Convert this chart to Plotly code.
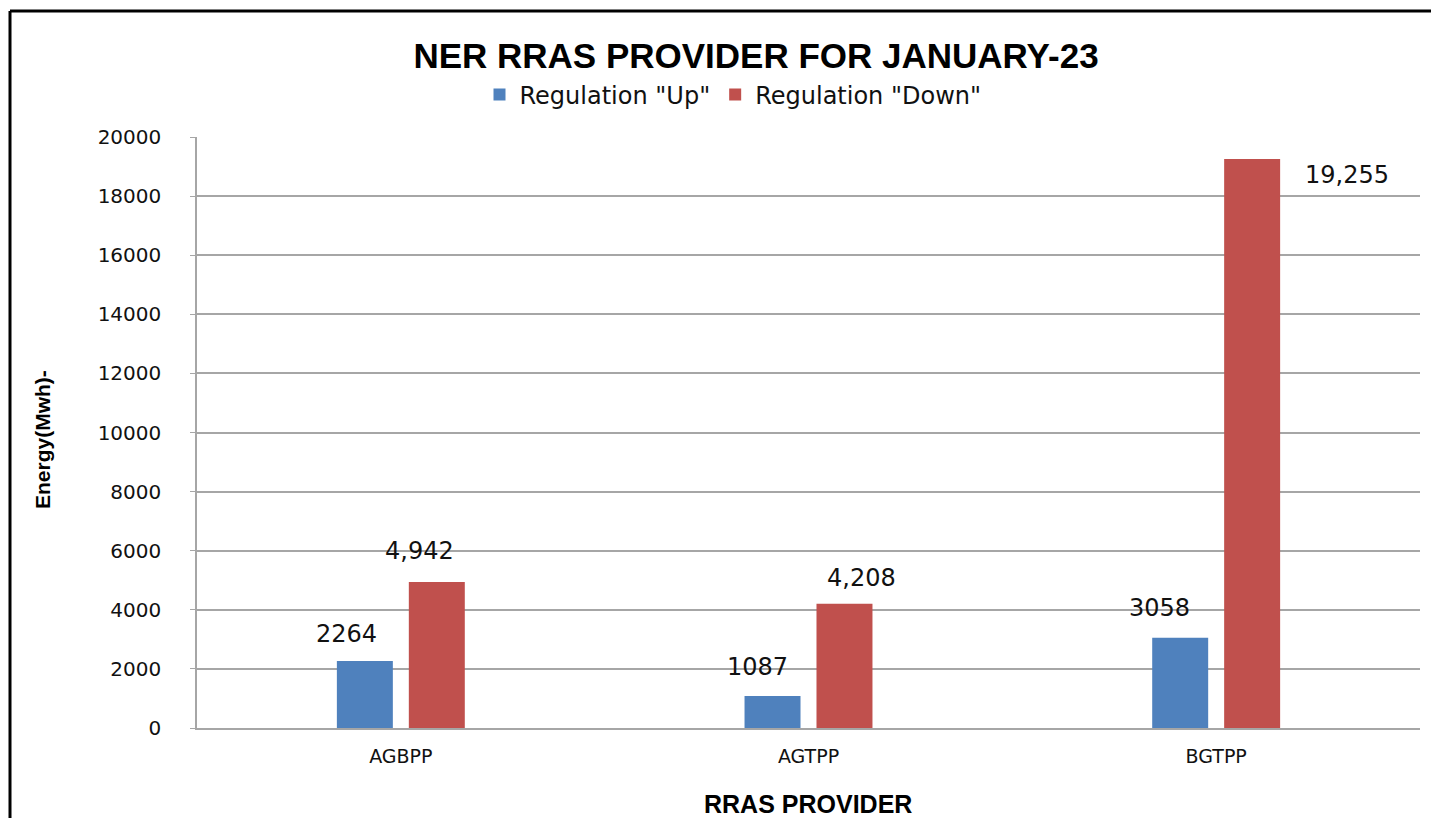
import plotly.graph_objects as go

categories = ["AGBPP", "AGTPP", "BGTPP"]
reg_up = [2264, 1087, 3058]
reg_down = [4942, 4208, 19255]
up_labels = ["2264", "1087", "3058"]
down_labels = ["4,942", "4,208", "19,255"]
y_ticks = [0, 2000, 4000, 6000, 8000, 10000, 12000, 14000, 16000, 18000, 20000]
y_tick_text = ["0", "2000", "4000", "6000", "8000", "10000", "12000", "14000",
               "16000", "18000", "20000"]

BLUE = "#4F81BD"
RED = "#C0504D"
TICK_FONT = "DejaVu Sans, Verdana, sans-serif"
BOLD_FONT = "Liberation Sans, Arial, sans-serif"

# page offset (body margin) and figure geometry
OFF = 8
W, H = 1439 - OFF, 818 - OFF
L, R, T, B = 197 - OFF, 19, 137 - OFF, 90
PW, PH = W - L - R, H - T - B


def px_x(x):  # reference page x -> paper x
    return (x - OFF - L) / PW


def px_y(y):  # reference page y -> paper y
    return (H - B - (y - OFF)) / PH


fig = go.Figure()
fig.add_trace(go.Bar(x=categories, y=reg_up, name='Regulation "Up"', marker_color=BLUE,
                     marker_line_width=0))
fig.add_trace(go.Bar(x=categories, y=reg_down, name='Regulation "Down"', marker_color=RED,
                     marker_line_width=0))

# data labels (offsets as manually placed in the original)
up_offsets = [(-18, 27), (-15, 29), (-21, 30)]
down_offsets = [(-17, 31), (17, 26), (95, -16)]
for i, c in enumerate(categories):
    dx, dy = up_offsets[i]
    fig.add_annotation(x=c, y=reg_up[i], xref="x", yref="y", text=up_labels[i],
                       showarrow=False, xshift=-36 + dx, yshift=dy,
                       xanchor="center", yanchor="middle",
                       font=dict(family=TICK_FONT, size=24, color="#111111"))
    dx, dy = down_offsets[i]
    fig.add_annotation(x=c, y=reg_down[i], xref="x", yref="y", text=down_labels[i],
                       showarrow=False, xshift=36 + dx, yshift=dy,
                       xanchor="center", yanchor="middle",
                       font=dict(family=TICK_FONT, size=24, color="#111111"))

# axis titles
fig.add_annotation(x=px_x(42), y=px_y(440), xref="paper", yref="paper",
                   text="<b>Energy(Mwh)-</b>", textangle=-90, showarrow=False,
                   xanchor="center", yanchor="middle",
                   font=dict(family="Liberation Sans Narrow, Arial Narrow, sans-serif",
                             size=21, color="black"))
fig.add_annotation(x=px_x(808), y=px_y(804), xref="paper", yref="paper",
                   text="<b>RRAS PROVIDER</b>", showarrow=False,
                   xanchor="center", yanchor="middle",
                   font=dict(family=BOLD_FONT, size=25, color="black"))

# outer frame (left and top edges visible)
fig.add_shape(type="line", xref="paper", yref="paper",
              x0=px_x(10), x1=px_x(10), y0=-0.3, y1=px_y(11),
              line=dict(color="black", width=3), layer="above")
fig.add_shape(type="line", xref="paper", yref="paper",
              x0=px_x(10), x1=1.2, y0=px_y(11), y1=px_y(11),
              line=dict(color="black", width=3), layer="above")

fig.update_layout(
    width=W, height=H,
    margin=dict(l=L, r=R, t=T, b=B),
    paper_bgcolor="white", plot_bgcolor="white",
    barmode="group", bargap=0.647, bargroupgap=0.222,
    title=dict(text="<b>NER RRAS PROVIDER FOR JANUARY-23</b>",
               x=px_x(756), xref="paper", xanchor="center",
               y=1 - (56 - OFF) / H, yanchor="middle",
               font=dict(family=BOLD_FONT, size=35, color="black")),
    legend=dict(orientation="h", x=px_x(733), xanchor="center",
                y=px_y(95), yanchor="middle",
                font=dict(family=TICK_FONT, size=24, color="#111111"),
                itemwidth=30, tracegroupgap=0, bgcolor="rgba(0,0,0,0)"),
    showlegend=True,
)
fig.update_xaxes(showgrid=False, showline=True, linecolor="#a6a6a6", linewidth=1.5,
                 tickfont=dict(family=TICK_FONT, size=19, color="#111111"),
                 ticks="", ticklabelstandoff=10)
fig.update_yaxes(range=[0, 20000], tickvals=y_ticks, ticktext=y_tick_text,
                 showgrid=True, gridcolor="#a6a6a6",
                 gridwidth=1.5, showline=True, linecolor="#a6a6a6", linewidth=1.5,
                 ticks="outside", ticklen=5, tickcolor="#a6a6a6",
                 tickfont=dict(family=TICK_FONT, size=20, color="#111111"),
                 zeroline=False, ticklabelstandoff=25)

fig.write_html("out.html")
